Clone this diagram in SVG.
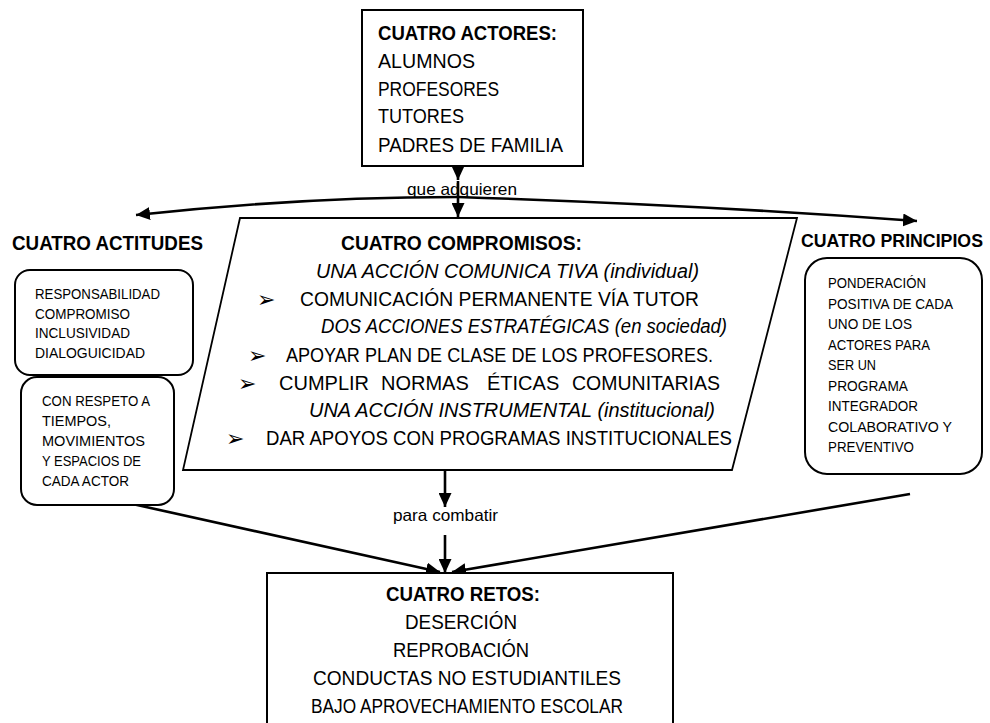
<svg xmlns="http://www.w3.org/2000/svg" width="990" height="723" viewBox="0 0 990 723">
<defs>
<marker id="ah" markerUnits="userSpaceOnUse" markerWidth="14" markerHeight="13" refX="14" refY="6.5" orient="auto" viewBox="0 0 14 13"><path d="M0,0 L14,6.5 L0,13 z" fill="#000"/></marker>
</defs>
<style>
.box{fill:#fff;stroke:#000;stroke-width:2}
.conn{fill:none;stroke:#000;stroke-width:2.6;marker-end:url(#ah)}
text{font-family:"Liberation Sans",Arial,sans-serif;fill:#000}
.h{font-weight:bold;font-size:20px}
.b{font-size:20px}
.i{font-size:20px;font-style:italic}
.s{font-size:14px}
.l{font-size:16.5px}
.bul{font-family:"DejaVu Sans",sans-serif;font-size:22px}
</style>
<rect width="990" height="723" fill="#fff"/>

<g id="connectors">
<path class="conn" d="M458,166 V180"/>
<path class="conn" d="M458,181 V217"/>
<path class="conn" d="M458,197 Q300,197 136,215"/>
<path class="conn" d="M458,197 Q700,205 917,221"/>
<path class="conn" d="M445,470 V507"/>
<path class="conn" d="M445,535 V573"/>
<path class="conn" d="M128,503 L440,572"/>
<path class="conn" d="M910,494 L452,572"/>
<text class="l" x="407" y="195" textLength="110" lengthAdjust="spacingAndGlyphs">que adquieren</text>
<text class="l" x="393" y="521" textLength="105" lengthAdjust="spacingAndGlyphs">para combatir</text>
</g>

<g id="actores">
<rect class="box" x="362" y="10" width="221" height="156"/>
<text class="h" x="378" y="40" textLength="179" lengthAdjust="spacingAndGlyphs">CUATRO ACTORES:</text>
<text class="b" x="378" y="68" textLength="97" lengthAdjust="spacingAndGlyphs">ALUMNOS</text>
<text class="b" x="378" y="96" textLength="121" lengthAdjust="spacingAndGlyphs">PROFESORES</text>
<text class="b" x="378" y="123" textLength="86" lengthAdjust="spacingAndGlyphs">TUTORES</text>
<text class="b" x="378" y="152" textLength="185" lengthAdjust="spacingAndGlyphs">PADRES DE FAMILIA</text>
</g>

<g id="compromisos">
<polygon class="box" points="240,218 797,218 732,470 183,470" style="stroke-width:1.8"/>
<text class="h" x="341" y="250" textLength="241" lengthAdjust="spacingAndGlyphs">CUATRO COMPROMISOS:</text>
<text class="i" x="316" y="278" textLength="383" lengthAdjust="spacingAndGlyphs">UNA ACCIÓN COMUNICA TIVA (individual)</text>
<text class="bul" x="257" y="307">➢</text>
<text class="b" x="300" y="306" textLength="399" lengthAdjust="spacingAndGlyphs">COMUNICACIÓN PERMANENTE VÍA TUTOR</text>
<text class="i" x="321" y="333" textLength="406" lengthAdjust="spacingAndGlyphs">DOS ACCIONES ESTRATÉGICAS (en sociedad)</text>
<text class="bul" x="248" y="363">➢</text>
<text class="b" x="286" y="362" textLength="427" lengthAdjust="spacingAndGlyphs">APOYAR PLAN DE CLASE DE LOS PROFESORES.</text>
<text class="bul" x="238" y="391">➢</text>
<text class="b" y="390"><tspan x="279">CUMPLIR</tspan> <tspan x="381">NORMAS</tspan> <tspan x="487">ÉTICAS</tspan> <tspan x="572" textLength="148" lengthAdjust="spacingAndGlyphs">COMUNITARIAS</tspan></text>
<text class="i" x="309" y="417" textLength="406" lengthAdjust="spacingAndGlyphs">UNA ACCIÓN INSTRUMENTAL (institucional)</text>
<text class="bul" x="226" y="446">➢</text>
<text class="b" x="266" y="445" textLength="466" lengthAdjust="spacingAndGlyphs">DAR APOYOS CON PROGRAMAS INSTITUCIONALES</text>
</g>

<g id="actitudes">
<text class="h" x="12" y="250" textLength="191" lengthAdjust="spacingAndGlyphs">CUATRO ACTITUDES</text>
<rect class="box" x="15" y="270" width="178" height="105" rx="15"/>
<text class="s" x="35" y="299" textLength="125" lengthAdjust="spacingAndGlyphs">RESPONSABILIDAD</text>
<text class="s" x="35" y="318.5" textLength="95" lengthAdjust="spacingAndGlyphs">COMPROMISO</text>
<text class="s" x="35" y="338" textLength="95" lengthAdjust="spacingAndGlyphs">INCLUSIVIDAD</text>
<text class="s" x="35" y="357.5" textLength="110" lengthAdjust="spacingAndGlyphs">DIALOGUICIDAD</text>
</g>

<g id="respeto">
<rect class="box" x="21" y="377" width="153" height="128" rx="16"/>
<text class="s" x="42" y="406" textLength="108" lengthAdjust="spacingAndGlyphs">CON RESPETO A</text>
<text class="s" x="42" y="426" textLength="69" lengthAdjust="spacingAndGlyphs">TIEMPOS,</text>
<text class="s" x="42" y="446" textLength="103" lengthAdjust="spacingAndGlyphs">MOVIMIENTOS</text>
<text class="s" x="42" y="466" textLength="99" lengthAdjust="spacingAndGlyphs">Y ESPACIOS DE</text>
<text class="s" x="42" y="486" textLength="87" lengthAdjust="spacingAndGlyphs">CADA ACTOR</text>
</g>

<g id="principios">
<text class="h" x="801" y="247" style="font-size:17.6px" textLength="182" lengthAdjust="spacingAndGlyphs">CUATRO PRINCIPIOS</text>
<rect class="box" x="805" y="258" width="177" height="216" rx="22"/>
<text class="s" x="828" y="288" textLength="98" lengthAdjust="spacingAndGlyphs">PONDERACIÓN</text>
<text class="s" x="828" y="308.5" textLength="125" lengthAdjust="spacingAndGlyphs">POSITIVA DE CADA</text>
<text class="s" x="828" y="329" textLength="84" lengthAdjust="spacingAndGlyphs">UNO DE LOS</text>
<text class="s" x="828" y="349.5" textLength="102" lengthAdjust="spacingAndGlyphs">ACTORES PARA</text>
<text class="s" x="828" y="370" textLength="48" lengthAdjust="spacingAndGlyphs">SER UN</text>
<text class="s" x="828" y="390.5" textLength="80" lengthAdjust="spacingAndGlyphs">PROGRAMA</text>
<text class="s" x="828" y="411" textLength="90" lengthAdjust="spacingAndGlyphs">INTEGRADOR</text>
<text class="s" x="828" y="431.5" textLength="124" lengthAdjust="spacingAndGlyphs">COLABORATIVO Y</text>
<text class="s" x="828" y="452" textLength="86" lengthAdjust="spacingAndGlyphs">PREVENTIVO</text>
</g>

<g id="retos">
<rect class="box" x="267" y="573" width="406" height="200"/>
<text class="h" x="386" y="601" textLength="154" lengthAdjust="spacingAndGlyphs">CUATRO RETOS:</text>
<text class="b" x="405" y="629" textLength="112" lengthAdjust="spacingAndGlyphs">DESERCIÓN</text>
<text class="b" x="393" y="657" textLength="136" lengthAdjust="spacingAndGlyphs">REPROBACIÓN</text>
<text class="b" x="313" y="685" textLength="308" lengthAdjust="spacingAndGlyphs">CONDUCTAS NO ESTUDIANTILES</text>
<text class="b" x="311" y="713" textLength="312" lengthAdjust="spacingAndGlyphs">BAJO APROVECHAMIENTO ESCOLAR</text>
</g>
</svg>
